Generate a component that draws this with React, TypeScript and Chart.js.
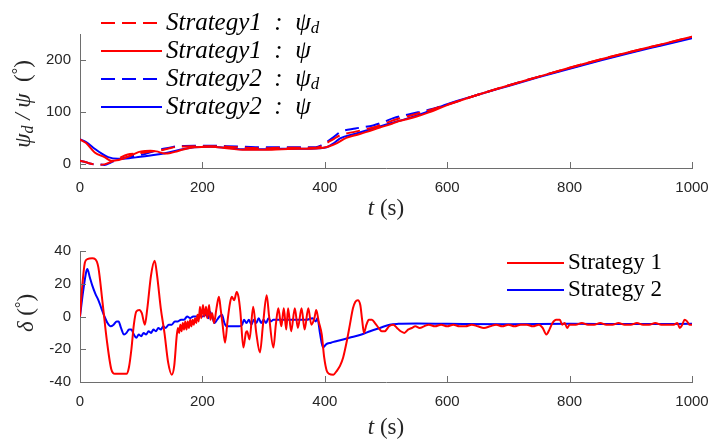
import React, { useEffect, useRef } from "react";
import { Chart, registerables } from "chart.js";
Chart.register(...registerables);

const xTicks = [0, 200, 400, 600, 800, 1000];
const psiTicks = [0, 100, 200];
const deltaTicks = [-40, -20, 0, 20, 40];

// Top plot: heading (deg) vs time (s)
const s1PsiD: [number, number][] = [
  [0, 6], [10, 3], [18, 0], [30, -2], [40, -1], [51, 4], [62, 10], [78, 18], [92, 20], [106, 22], [120, 24], [132, 26],
  [146, 30], [160, 33], [187, 34], [214, 34], [240, 33], [269, 31], [300, 30], [330, 31], [360, 31], [385, 31], [395, 34],
  [403, 40], [415, 48], [425, 55], [450, 62], [479, 70], [495, 76], [512, 84], [540, 93], [570, 103], [600, 114], [650, 133],
  [700, 151], [750, 168], [800, 185], [850, 201], [900, 216], [950, 230], [1000, 245],
];
const s1Psi: [number, number][] = [
  [0, 47], [10, 40], [24, 22], [40, 13], [51, 6], [60, 7], [67, 9], [83, 16], [100, 24], [115, 25], [125, 24], [138, 20],
  [148, 21], [155, 23], [170, 28], [187, 32], [214, 33], [240, 30], [269, 27], [300, 27], [330, 28], [360, 29], [390, 30],
  [405, 33], [420, 40], [435, 50], [450, 55], [470, 62], [490, 70], [507, 76], [520, 82], [534, 86], [550, 91], [570, 99],
  [600, 113], [650, 133], [700, 151], [750, 168], [800, 185], [850, 201], [900, 216], [950, 230], [1000, 245],
];
const s2PsiD: [number, number][] = [
  [0, 6], [10, 3], [18, 0], [30, -1], [40, -2], [51, 3], [62, 8], [78, 13], [92, 16], [106, 19], [120, 24], [132, 28],
  [146, 31], [160, 34], [187, 35], [214, 35], [240, 34], [269, 33], [300, 32], [330, 32], [360, 32], [385, 32], [395, 36],
  [403, 42], [415, 52], [425, 61], [450, 68], [479, 74], [495, 80], [512, 88], [540, 96], [570, 104], [600, 114], [650, 133],
  [700, 151], [750, 168], [800, 184], [850, 200], [900, 215], [950, 229], [1000, 243],
];
const s2Psi: [number, number][] = [
  [0, 47], [10, 42], [24, 29], [35, 20], [46, 13], [62, 10], [80, 11], [95, 13], [115, 16], [132, 19], [160, 26], [187, 32],
  [214, 33], [240, 31], [269, 28], [300, 28], [330, 29], [360, 29], [390, 30], [403, 32], [415, 40], [425, 49], [450, 58],
  [479, 68], [507, 78], [534, 87], [560, 97], [600, 115], [650, 133], [700, 150], [750, 167], [800, 183], [850, 199],
  [900, 214], [950, 228], [1000, 242],
];

// Bottom plot: rudder angle (deg) vs time (s)
const s1Delta: [number, number][] = [
  [0, 0], [4, 20], [8, 33], [12, 35], [20, 35.5], [25, 35], [30, 30], [37, 8], [44, -15], [51, -32], [57, -35], [76, -35],
  [80, -31], [84, -20], [88, -5], [92, 3], [97, 4], [101, 2], [106, -5], [110, 5], [116, 25], [122, 34], [126, 25], [132, 5],
  [138, -10], [144, -28], [150, -35.5], [154, -30], [158, -12], [160, -7], [162, -10], [164, -5], [166, -9], [168, -4],
  [170, -8], [172, -3], [174, -8], [176, -3], [178, -7], [180, -2], [182, -6], [184, -2], [186, -5], [188, -1], [190, -4],
  [192, 1], [194, -3], [196, 6], [198, -1], [201, 7], [203, 0], [206, 6], [208, -1], [211, 7], [213, -2], [216, 2],
  [219, -4], [223, 5], [227, 12], [230, 4], [233, -5], [237, -16], [241, -3], [245, 8], [248, 12], [252, 10], [256, 15],
  [259, 12], [262, 3], [267, -19], [271, -10], [273, -9], [277, -14], [283, 6], [288, -10], [294, -22], [299, -5],
  [305, 13], [309, 0], [316, -19], [320, -5], [324, 5], [329, -6], [333, 5], [337, -8], [340, 5], [345, -9], [351, 5],
  [356, -7], [362, 5], [367, -8], [373, 5], [378, -5], [383, -1], [386, 4], [390, -3], [395, -11],
  [399, -25], [403, -33], [407, -35], [414, -35.5], [420, -33], [425, -30], [430, -25], [436, -15], [441, -5], [446, 5],
  [450, 9], [454, 10], [458, 7], [461, -2], [464, -10], [468, -5], [472, -2], [477, -2], [482, -4], [488, -7], [493, -9],
  [498, -9], [505, -6], [512, -5], [518, -7], [524, -9], [530, -10], [536, -8], [542, -7], [548, -6], [555, -7], [562, -6],
  [570, -5], [580, -6], [590, -5], [600, -6], [610, -5], [620, -6], [630, -6], [640, -5], [650, -6], [660, -7], [670, -6],
  [680, -5], [690, -6], [700, -5], [710, -6], [720, -5], [730, -5], [740, -6], [750, -5], [756, -7], [762, -11], [767, -8],
  [772, -4], [778, -2], [784, -2], [788, -5], [792, -4], [796, -7], [800, -5], [810, -5], [820, -4], [830, -5], [840, -5],
  [850, -4], [860, -5], [870, -5], [880, -4], [890, -5], [900, -5], [910, -4], [920, -5], [930, -5], [940, -4], [950, -5],
  [960, -5], [970, -5], [976, -4], [980, -7], [984, -5], [988, -2], [992, -3], [996, -5], [1000, -5],
];
const s2Delta: [number, number][] = [
  [0, 0], [5, 15], [10, 27], [12, 29], [16, 24], [20, 19], [25, 14], [30, 10], [35, 5], [40, 0], [45, -4], [50, -6],
  [55, -5], [60, -3], [63, -3], [67, -7], [72, -11], [76, -10], [80, -8], [84, -8], [88, -11], [92, -13], [96, -11],
  [100, -12], [104, -10], [108, -11], [112, -9], [116, -10], [120, -8], [124, -9], [128, -7], [132, -8], [136, -6],
  [140, -7], [145, -5], [150, -5], [155, -3], [160, -3], [165, -2], [170, -2], [175, 0], [180, -1], [185, 0], [190, 0],
  [195, 1], [200, 0], [205, 1], [210, -1], [212, 3], [216, 0], [220, -4], [224, -2], [228, 0], [232, 1], [236, -4],
  [240, -6], [250, -6], [260, -6], [265, -5], [268, -2], [272, -4], [276, -2], [280, -5], [284, -2], [288, -4], [292, -1],
  [296, -4], [300, -2], [304, -4], [308, -1], [312, -3], [316, -2], [320, -2], [330, -2], [340, -2], [350, -2], [360, -2],
  [370, -2], [380, -1], [385, -3], [388, -1], [392, -10], [397, -19], [402, -17], [410, -16], [420, -15], [440, -13],
  [460, -11], [474, -9], [490, -7], [506, -5], [520, -4.5], [550, -4.3], [600, -4.5], [700, -4.8], [800, -4.5], [900, -4.6],
  [1000, -4.5],
];

const RED = "#ff0000";
const BLUE = "#0000ff";
const AXIS = "#6e6e6e";
const TXT = "#262626";
const MI = (s: number) => `italic ${s}px "Liberation Serif"`;
const MR = (s: number) => `${s}px "Liberation Serif"`;

type Part = { t: string; f: string; dy?: number };
function drawRich(ctx: CanvasRenderingContext2D, parts: Part[], x: number, y: number, align: "left" | "center") {
  let w = 0;
  for (const p of parts) { ctx.font = p.f; w += ctx.measureText(p.t).width; }
  let cx = align === "center" ? x - w / 2 : x;
  ctx.textBaseline = "middle";
  ctx.textAlign = "left";
  for (const p of parts) {
    ctx.font = p.f;
    ctx.fillText(p.t, cx, y + (p.dy || 0));
    cx += ctx.measureText(p.t).width;
  }
}

const pts = (a: [number, number][]) => a.map(([x, y]) => ({ x, y }));

type LegendItem = { color: string; dash: number[]; parts: Part[] };

function makeConfig(opts: {
  datasets: any[];
  yMin: number; yMax: number; yTicks: number[];
  padTop: number; xHeight: number;
  legend: LegendItem[]; legX: number; legY0: number; legDy: number; legLen: number;
  yTitle: Part[]; yTitleX: number; yTitleY: number;
  xTitleY: number;
}) {
  const decor = {
    id: "decor",
    afterDraw(chart: any) {
      const ctx: CanvasRenderingContext2D = chart.ctx;
      const xs = chart.scales.x, ys = chart.scales.y;
      const area = chart.chartArea;
      ctx.save();
      // inward ticks
      ctx.strokeStyle = AXIS;
      ctx.lineWidth = 1;
      ctx.beginPath();
      for (const v of xTicks) {
        const px = Math.round(xs.getPixelForValue(v)) + 0.5;
        ctx.moveTo(px, area.bottom);
        ctx.lineTo(px, area.bottom - 6);
      }
      for (const v of opts.yTicks) {
        const py = Math.round(ys.getPixelForValue(v)) + 0.5;
        ctx.moveTo(area.left, py);
        ctx.lineTo(area.left + 6, py);
      }
      ctx.stroke();
      // legend
      opts.legend.forEach((it, i) => {
        const y = opts.legY0 + i * opts.legDy;
        ctx.strokeStyle = it.color;
        ctx.lineWidth = 2;
        ctx.setLineDash(it.dash);
        ctx.beginPath();
        ctx.moveTo(opts.legX, y);
        ctx.lineTo(opts.legX + opts.legLen, y);
        ctx.stroke();
        ctx.setLineDash([]);
        ctx.fillStyle = "#000";
        drawRich(ctx, it.parts, opts.legX + opts.legLen + 4, y, "left");
      });
      // axis titles
      ctx.fillStyle = TXT;
      drawRich(ctx, [{ t: "t", f: MI(23) }, { t: " (s)", f: MR(23) }], (area.left + area.right) / 2, opts.xTitleY, "center");
      ctx.translate(opts.yTitleX, opts.yTitleY);
      ctx.rotate(-Math.PI / 2);
      drawRich(ctx, opts.yTitle, 0, 0, "center");
      ctx.restore();
    },
  };
  const tickFont = { family: '"Liberation Sans", Arial', size: 15 };
  return {
    type: "line" as const,
    data: { datasets: opts.datasets },
    options: {
      animation: false as const,
      responsive: false,
      events: [],
      layout: { padding: { top: opts.padTop, right: 20, left: 0, bottom: 0 } },
      plugins: { legend: { display: false }, tooltip: { enabled: false }, title: { display: false } },
      elements: { point: { radius: 0 }, line: { borderWidth: 2, cubicInterpolationMode: "monotone" as const } },
      scales: {
        x: {
          type: "linear" as const,
          min: 0, max: 1000,
          afterBuildTicks: (s: any) => { s.ticks = xTicks.map((v) => ({ value: v })); },
          afterFit: (s: any) => { s.height = opts.xHeight; s.paddingLeft = 0; s.paddingRight = 0; },
          grid: { display: false, drawTicks: false },
          border: { display: true, color: AXIS, width: 1 },
          ticks: { color: TXT, font: tickFont, padding: 11, maxRotation: 0, callback: (v: any) => String(v) },
        },
        y: {
          type: "linear" as const,
          min: opts.yMin, max: opts.yMax,
          afterBuildTicks: (s: any) => { s.ticks = opts.yTicks.map((v) => ({ value: v })); },
          afterFit: (s: any) => { s.width = 80; s.paddingTop = 0; s.paddingBottom = 0; },
          grid: { display: false, drawTicks: false },
          border: { display: true, color: AXIS, width: 1 },
          ticks: { color: TXT, font: tickFont, padding: 9, callback: (v: any) => String(v) },
        },
      },
    },
    plugins: [decor],
  };
}

function ChartCanvas({ config, width, height, top }: { config: any; width: number; height: number; top: number }) {
  const ref = useRef<HTMLCanvasElement | null>(null);
  useEffect(() => {
    if (!ref.current) return;
    const c = new Chart(ref.current, config);
    return () => c.destroy();
  }, []);
  return (
    <canvas ref={ref} width={width} height={height}
      style={{ position: "absolute", left: 0, top, width, height, display: "block" }} />
  );
}

export default function App() {
  const topCfg = makeConfig({
    datasets: [
      { label: "Strategy1 psi_d", data: pts(s1PsiD), borderColor: RED, borderDash: [14, 7] },
      { label: "Strategy1 psi", data: pts(s1Psi), borderColor: RED },
      { label: "Strategy2 psi_d", data: pts(s2PsiD), borderColor: BLUE, borderDash: [14, 7] },
      { label: "Strategy2 psi", data: pts(s2Psi), borderColor: BLUE },
    ],
    yMin: -8, yMax: 250, yTicks: psiTicks,
    padTop: 34, xHeight: 225 - 168,
    legend: [
      { color: RED, dash: [14, 7], parts: [{ t: "Strategy1  :  ψ", f: MI(25) }, { t: "d", f: MI(17), dy: 6 }] },
      { color: RED, dash: [], parts: [{ t: "Strategy1  :  ψ", f: MI(25) }] },
      { color: BLUE, dash: [14, 7], parts: [{ t: "Strategy2  :  ψ", f: MI(25) }, { t: "d", f: MI(17), dy: 6 }] },
      { color: BLUE, dash: [], parts: [{ t: "Strategy2  :  ψ", f: MI(25) }] },
    ],
    legX: 101, legY0: 23, legDy: 28, legLen: 61,
    yTitle: [
      { t: "ψ", f: MI(23) }, { t: "d", f: MI(16), dy: 5 }, { t: " / ", f: MI(23) }, { t: "ψ", f: MI(23) },
      { t: "  (", f: MR(23) }, { t: "°", f: MR(16), dy: -5 }, { t: ")", f: MR(23) },
    ],
    yTitleX: 24, yTitleY: 104,
    xTitleY: 209,
  });
  const botCfg = makeConfig({
    datasets: [
      { label: "Strategy 1", data: pts(s1Delta), borderColor: RED },
      { label: "Strategy 2", data: pts(s2Delta), borderColor: BLUE },
    ],
    yMin: -40, yMax: 40, yTicks: deltaTicks,
    padTop: 26, xHeight: 216 - 157,
    legend: [
      { color: RED, dash: [], parts: [{ t: "Strategy 1", f: MR(23) }] },
      { color: BLUE, dash: [], parts: [{ t: "Strategy 2", f: MR(23) }] },
    ],
    legX: 507, legY0: 38, legDy: 27, legLen: 57,
    yTitle: [
      { t: "δ", f: MI(23) }, { t: " (", f: MR(23) }, { t: "°", f: MR(16), dy: -5 }, { t: ")", f: MR(23) },
    ],
    yTitleX: 27, yTitleY: 88,
    xTitleY: 203,
  });
  return (
    <div style={{ position: "fixed", left: 0, top: 0, width: 712, height: 441, background: "#fff", overflow: "hidden" }}>
      <ChartCanvas config={topCfg} width={712} height={225} top={0} />
      <ChartCanvas config={botCfg} width={712} height={216} top={225} />
    </div>
  );
}
